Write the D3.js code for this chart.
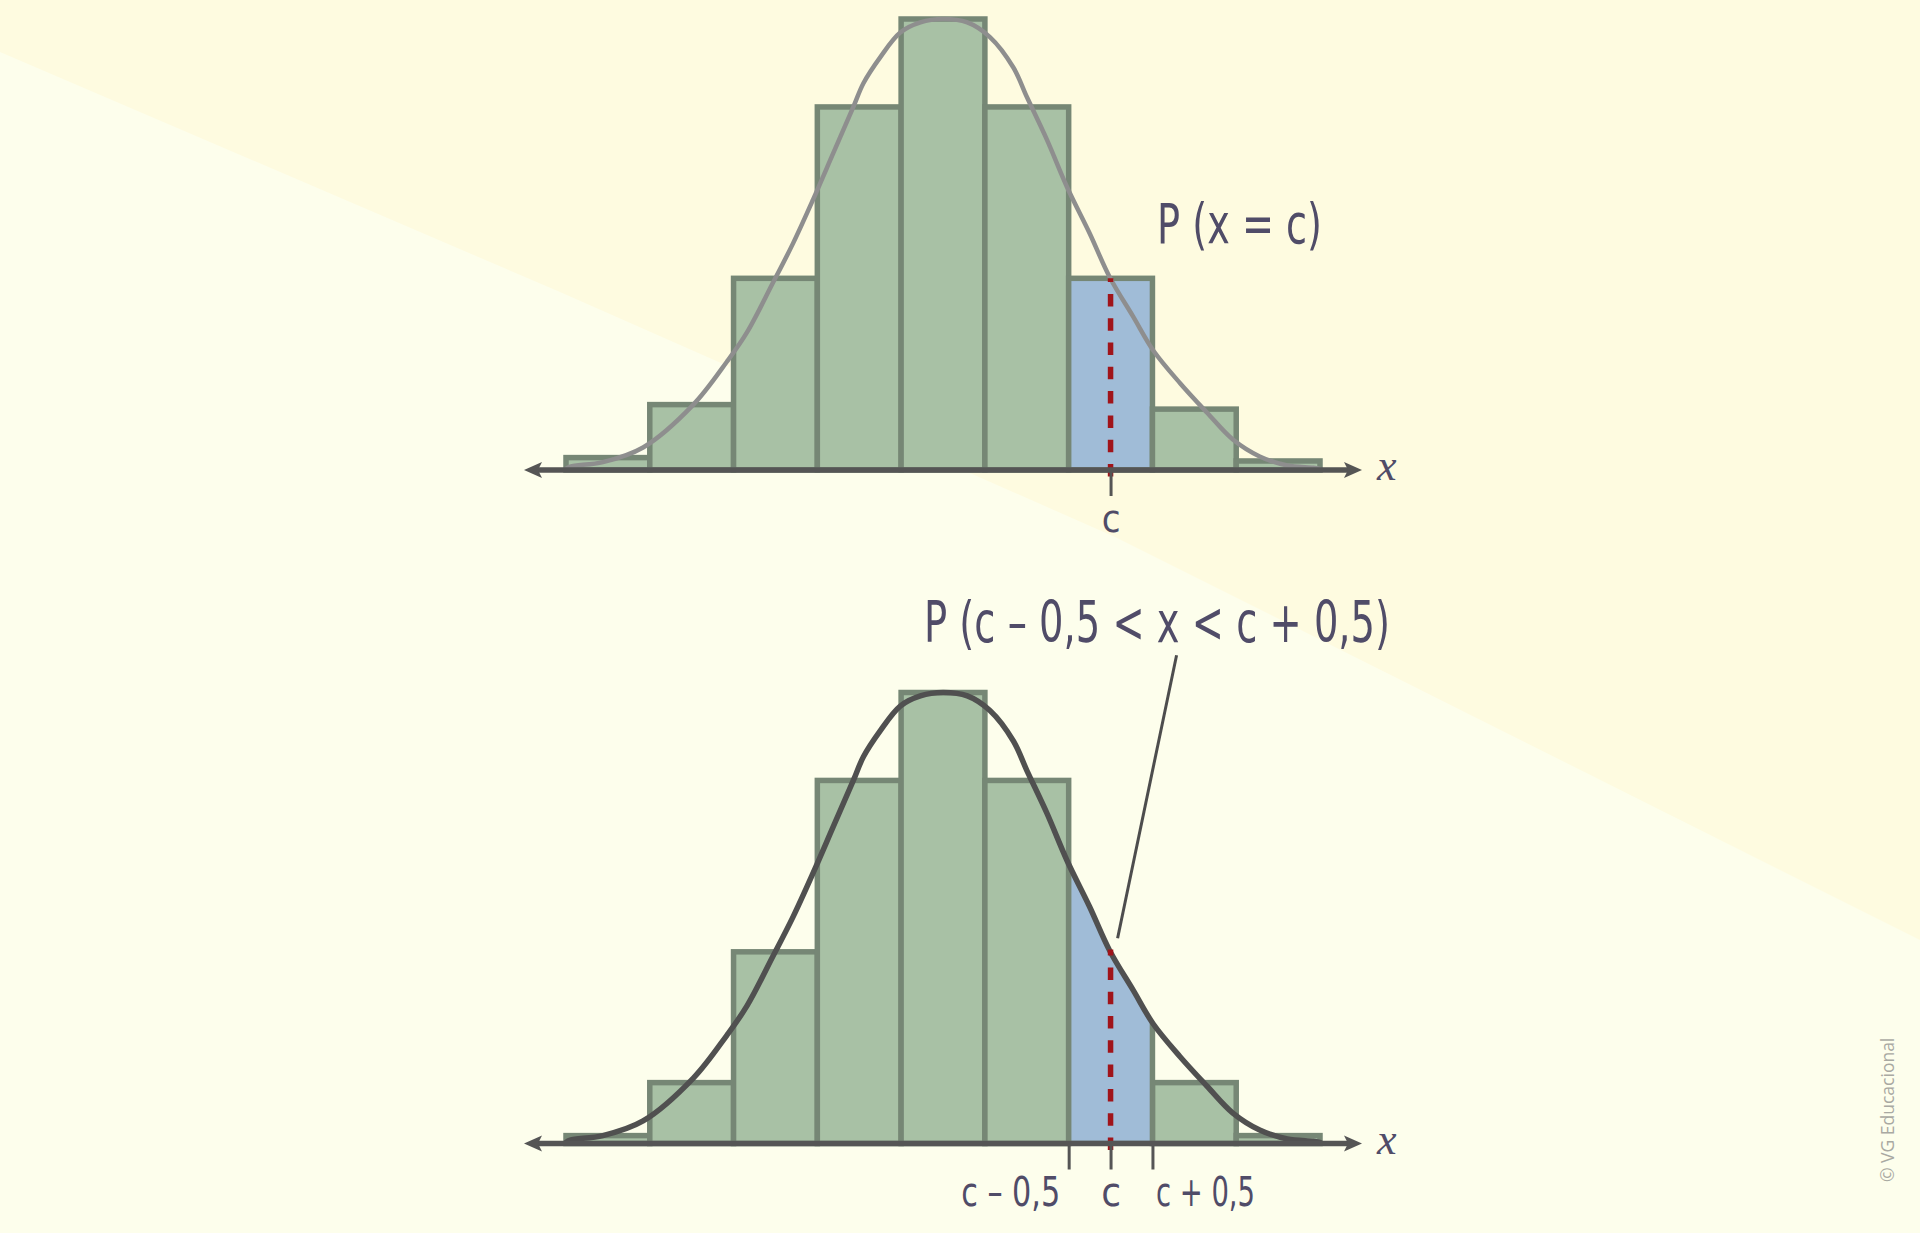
<!DOCTYPE html>
<html>
<head>
<meta charset="utf-8">
<script src="https://cdn.jsdelivr.net/npm/d3@7"></script>
<style>
  html, body { margin: 0; padding: 0; background: #fdfeec; }
  svg { display: block; }
</style>
</head>
<body>
<svg id="chart" width="1920" height="1233"></svg>
<script>
// ---------------- data ----------------
const classes = [0, 1, 2, 3, 4, 5, 6, 7, 8];          // class centres (bin width 1)
const cClass = 6;                                       // the class "c"
const topFreq    = [0.011, 0.058, 0.170, 0.322, 0.400, 0.322, 0.170, 0.054, 0.008];
const bottomFreq = [0.007, 0.054, 0.170, 0.322, 0.400, 0.322, 0.170, 0.054, 0.007];

// bell curve (x in class units, y in same units as bars)
const curveX = [-0.5, -0.45, -0.06, 0.42, 1.02, 1.42, 1.66, 1.97, 2.21, 2.45, 2.69, 2.93, 3.05, 3.25, 3.49, 3.73, 4.0,
                4.29, 4.56, 4.84, 5.0, 5.24, 5.48, 5.75, 5.99, 6.27, 6.51, 6.83, 7.15, 7.46, 7.78, 8.11, 8.42, 8.5];
const curveY = [0.001, 0.003, 0.007, 0.020, 0.058, 0.096, 0.122, 0.166, 0.201, 0.240, 0.281, 0.322, 0.343, 0.366, 0.388, 0.397, 0.400,
                0.397, 0.384, 0.357, 0.331, 0.293, 0.251, 0.210, 0.171, 0.136, 0.106, 0.077, 0.051, 0.027, 0.012, 0.004, 0.002, 0.001];

const topTickValues = [6];
const topTickLabels = ["c"];
const bottomTickValues = [5.5, 6, 6.5];
const bottomTickLabels = ["c – 0,5", "c", "c + 0,5"];
const topTitle = "P (x = c)";
const bottomTitle = "P (c – 0,5 < x < c + 0,5)";
const copyright = "© VG Educacional";

// ---------------- layout / style ----------------
const W = 1920, H = 1233;
const col = {
  bgLow: "#fdfeec", bgHigh: "#fefbe0",
  barFill: "#a8c1a5", barStroke: "#768775", blue: "#a0bcd7",
  red: "#a0141a", axis: "#555555", text: "#504c68",
  curveTop: "#8e8e8e", curveBottom: "#505050", copy: "#a9a9a2"
};
const labelFont = "'DejaVu Sans Condensed', Roboto, 'Noto Sans', sans-serif";

const svg = d3.select("#chart");
const x = d3.scaleLinear().domain([-0.5, 8.5]).range([566, 1320]);
const yTop = d3.scaleLinear().domain([0, 0.4]).range([470, 19]);
const yBot = d3.scaleLinear().domain([0, 0.4]).range([1143.5, 692.5]);

// background: two tones split by a diagonal
svg.append("rect").attr("width", W).attr("height", H).attr("fill", col.bgLow);
svg.append("path").attr("d", `M0,0 L${W},0 L${W},940 L1115,537 L560,292 L0,52 Z`).attr("fill", col.bgHigh);

const curvePts = curveX.map((v, i) => [v, curveY[i]]);
const curveGen = d3.curveCatmullRom.alpha(0.5);

function drawPanel(y, freq, opts) {
  const g = svg.append("g");
  const y0 = y(0);

  // bars
  g.selectAll("rect.bar")
    .data(classes.filter(k => !(opts.clipC && k === cClass)))
    .join("rect")
    .attr("class", "bar")
    .attr("x", k => x(k - 0.5))
    .attr("width", k => x(k + 0.5) - x(k - 0.5))
    .attr("y", k => y(freq[k]))
    .attr("height", k => y0 - y(freq[k]))
    .attr("fill", k => (!opts.clipC && k === cClass) ? col.blue : col.barFill)
    .attr("stroke", col.barStroke)
    .attr("stroke-width", 5.5);

  if (opts.clipC) {
    // area under the curve used as clip, blue strip between c-0.5 and c+0.5
    const clipId = "under-curve";
    const area = d3.area().x(d => x(d[0])).y0(y0).y1(d => y(d[1])).curve(curveGen);
    svg.append("defs").append("clipPath").attr("id", clipId)
      .append("path").attr("d", area(curvePts));
    g.append("rect")
      .attr("clip-path", `url(#${clipId})`)
      .attr("x", x(cClass - 0.5))
      .attr("width", x(cClass + 0.5) - x(cClass - 0.5))
      .attr("y", y(0.45))
      .attr("height", y0 - y(0.45))
      .attr("fill", col.blue)
      .attr("stroke", col.barStroke)
      .attr("stroke-width", 5.5);
  }

  // curve
  const line = d3.line().x(d => x(d[0])).y(d => y(d[1])).curve(curveGen);
  g.append("path")
    .attr("d", line(curvePts))
    .attr("fill", "none")
    .attr("stroke", opts.curveColor)
    .attr("stroke-width", opts.curveWidth)
    .attr("stroke-linecap", "round");

  // dashed line at c
  g.append("line")
    .attr("x1", x(cClass)).attr("x2", x(cClass))
    .attr("y1", y0 + 6.5).attr("y2", y(opts.dashTop))
    .attr("stroke", col.red)
    .attr("stroke-width", 5.5)
    .attr("stroke-dasharray", "12.5 11.8");

  // ticks + labels through d3 axis
  const axis = d3.axisBottom(x)
    .tickValues(opts.ticks)
    .tickSize(26)
    .tickFormat((d, i) => opts.tickLabels[i]);
  const ag = g.append("g").attr("transform", `translate(0,${y0})`).call(axis);
  ag.select(".domain").remove();
  ag.selectAll(".tick line").attr("stroke", col.axis).attr("stroke-width", 3);
  ag.selectAll(".tick text")
    .attr("y", 62).attr("dy", 0)
    .attr("fill", col.text)
    .attr("font-family", labelFont)
    .attr("font-size", opts.tickFont)
    .each(function (d, i) {
      const t = d3.select(this);
      const lab = opts.tickLabels[i];
      if (lab.length > 1) {
        t.attr("textLength", 99).attr("lengthAdjust", "spacingAndGlyphs");
        if (d < cClass) t.attr("text-anchor", "end").attr("dx", -9);
        else t.attr("text-anchor", "start").attr("dx", 3);
      }
    });

  // axis line with arrow heads at both ends
  const xl = x(-0.5) - 42, xr = x(8.5) + 42;
  g.append("line")
    .attr("x1", xl + 10).attr("x2", xr - 10)
    .attr("y1", y0).attr("y2", y0)
    .attr("stroke", col.axis).attr("stroke-width", 5.5);
  g.append("path")
    .attr("d", `M${xr},${y0} L${xr - 18},${y0 - 8} L${xr - 14},${y0} L${xr - 18},${y0 + 8} Z`)
    .attr("fill", col.axis);
  g.append("path")
    .attr("d", `M${xl},${y0} L${xl + 18},${y0 - 8} L${xl + 14},${y0} L${xl + 18},${y0 + 8} Z`)
    .attr("fill", col.axis);

  // x label
  g.append("text")
    .attr("x", x(8.5) + 57).attr("y", y0 + 10)
    .attr("font-family", "'Liberation Serif', 'DejaVu Serif', serif")
    .attr("font-style", "italic")
    .attr("font-size", 44)
    .attr("fill", col.text)
    .text("x");

  return g;
}

// top panel
const gTop = drawPanel(yTop, topFreq, {
  clipC: false, curveColor: col.curveTop, curveWidth: 4.5,
  dashTop: topFreq[cClass], ticks: topTickValues, tickLabels: topTickLabels, tickFont: 38
});
gTop.append("text")
  .attr("x", x(6.555)).attr("y", yTop(0.2013))
  .attr("font-family", labelFont).attr("font-size", 55)
  .attr("fill", col.text)
  .attr("textLength", 165).attr("lengthAdjust", "spacingAndGlyphs")
  .text(topTitle);

// bottom panel
const gBot = drawPanel(yBot, bottomFreq, {
  clipC: true, curveColor: col.curveBottom, curveWidth: 5.5,
  dashTop: 0.172, ticks: bottomTickValues, tickLabels: bottomTickLabels, tickFont: 40
});
gBot.append("text")
  .attr("x", x(3.773)).attr("y", yBot(0.445))
  .attr("font-family", labelFont).attr("font-size", 57)
  .attr("fill", col.text)
  .attr("textLength", 466).attr("lengthAdjust", "spacingAndGlyphs")
  .text(bottomTitle);
// leader line from the label to the curve
gBot.append("line")
  .attr("x1", x(6.788)).attr("y1", yBot(0.433))
  .attr("x2", x(6.084)).attr("y2", yBot(0.182))
  .attr("stroke", "#4d4d4d").attr("stroke-width", 3);

// copyright, vertical
svg.append("text")
  .attr("transform", "translate(1894,1182) rotate(-90)")
  .attr("font-family", "'Open Sans', sans-serif")
  .attr("font-size", 17.5)
  .attr("fill", col.copy)
  .text(copyright);
</script>
</body>
</html>
